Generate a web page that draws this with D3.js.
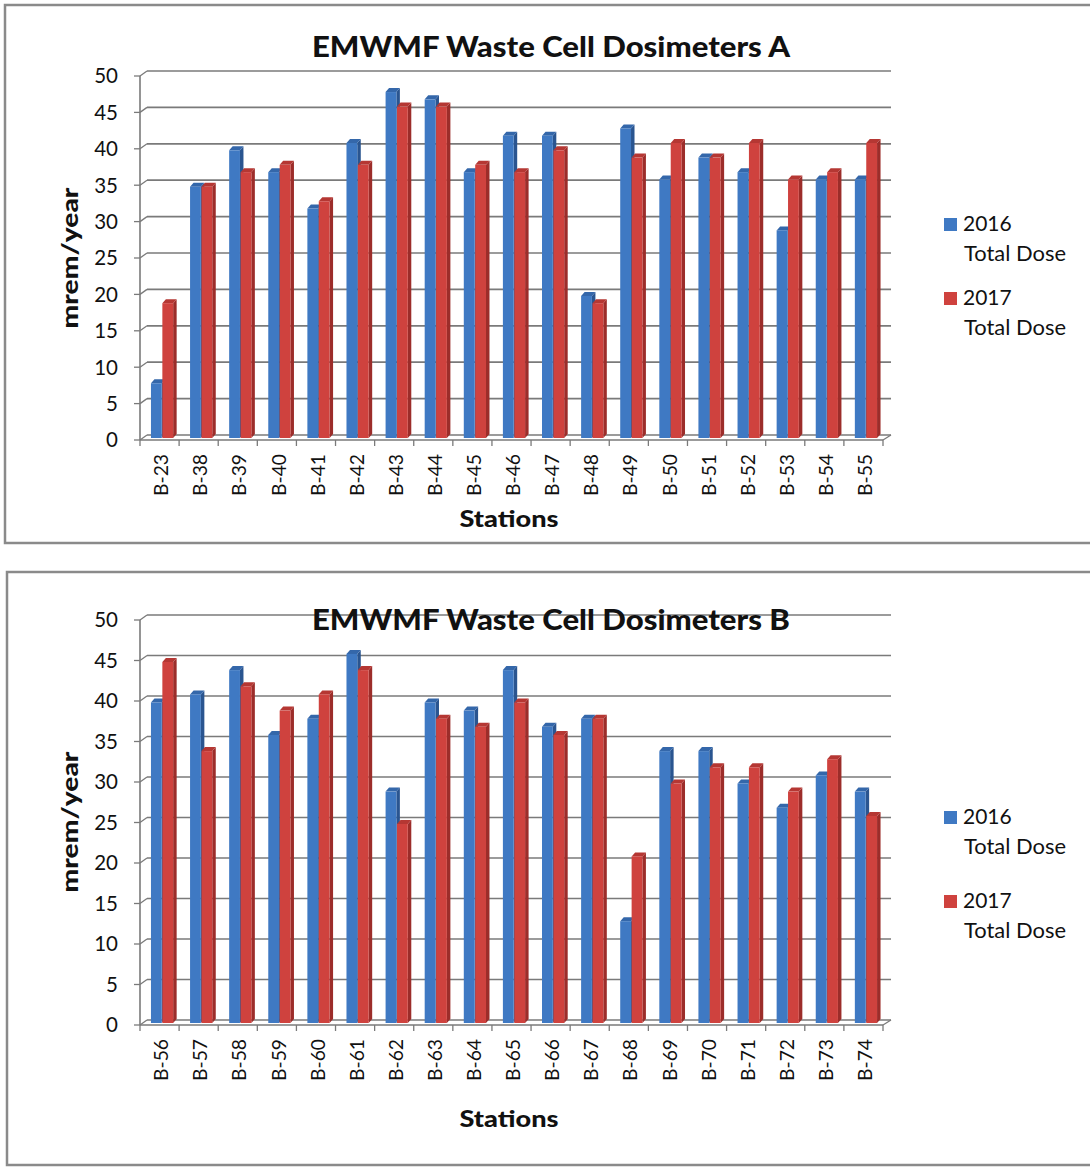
<!DOCTYPE html>
<html>
<head>
<meta charset="utf-8">
<script src="https://cdn.jsdelivr.net/npm/d3@7"></script>
<style>
  html, body { margin: 0; padding: 0; background: #fff; }
  svg { display: block; }
  text { font-family: Lato, "Open Sans", sans-serif; fill: #111; }
</style>
</head>
<body>
<svg id="chart" width="1090" height="1173"></svg>
<script>
// ---- data ----
const stationsA = ["B-23","B-38","B-39","B-40","B-41","B-42","B-43","B-44","B-45","B-46","B-47","B-48","B-49","B-50","B-51","B-52","B-53","B-54","B-55"];
const dose2016A = [8,35,40,37,32,41,48,47,37,42,42,20,43,36,39,37,29,36,36];
const dose2017A = [19,35,37,38,33,38,46,46,38,37,40,19,39,41,39,41,36,37,41];

const stationsB = ["B-56","B-57","B-58","B-59","B-60","B-61","B-62","B-63","B-64","B-65","B-66","B-67","B-68","B-69","B-70","B-71","B-72","B-73","B-74"];
const dose2016B = [40,41,44,36,38,46,29,40,39,44,37,38,13,34,34,30,27,31,29];
const dose2017B = [45,34,42,39,41,44,25,38,37,40,36,38,21,30,32,32,29,33,26];

const yTicks = [0,5,10,15,20,25,30,35,40,45,50];
const seriesYears = ["2016","2017"];
const seriesSub = ["Total Dose","Total Dose"];
const titles = ["EMWMF Waste Cell Dosimeters A","EMWMF Waste Cell Dosimeters B"];
const yAxisTitle = "mrem/year";
const xAxisTitle = "Stations";

// ---- styles ----
const faceCol = ["#3f79c3","#cf423e"];
const sideCol = ["#2a5590","#9c2d2a"];
const topCol  = ["#3467aa","#b53733"];
const gridCol = "#7a7a7a";

const svg = d3.select("#chart");

// panel frames
svg.append("rect").attr("x",5).attr("y",5).attr("width",1100).attr("height",538)
  .attr("fill","none").attr("stroke","#8a8a8a").attr("stroke-width",2.5);
svg.append("rect").attr("x",7).attr("y",572).attr("width",1100).attr("height",593)
  .attr("fill","none").attr("stroke","#8a8a8a").attr("stroke-width",2.5);

function drawChart(cfg) {
  const g = svg.append("g");
  const x = d3.scaleBand().domain(cfg.cats).range([140, 883]).paddingInner(0).paddingOuter(0);
  const y = d3.scaleLinear().domain([0,50]).range([cfg.y0, cfg.y50]);
  const dx = 7, dy = -5; // back wall offset

  // back gridlines
  g.selectAll(".grid").data(yTicks).join("line")
    .attr("x1", 140+dx).attr("x2", 891)
    .attr("y1", d => y(d)+dy).attr("y2", d => y(d)+dy)
    .attr("stroke", gridCol).attr("stroke-width", 1.7);
  // diagonal connectors from front axis to back wall
  g.selectAll(".diag").data(yTicks).join("line")
    .attr("x1", 140).attr("x2", 140+dx)
    .attr("y1", d => y(d)).attr("y2", d => y(d)+dy)
    .attr("stroke", gridCol).attr("stroke-width", 1.3);
  // front-left axis
  g.append("line").attr("x1",140).attr("x2",140).attr("y1",y(50)).attr("y2",y(0))
    .attr("stroke", gridCol).attr("stroke-width", 1.6);
  // y ticks
  g.selectAll(".yt").data(yTicks).join("line")
    .attr("x1", 134).attr("x2", 140).attr("y1", d => y(d)).attr("y2", d => y(d))
    .attr("stroke", gridCol).attr("stroke-width", 1.3);
  g.selectAll(".yl").data(yTicks).join("text")
    .attr("x", 118).attr("y", d => y(d)).attr("dy","0.36em")
    .attr("text-anchor","end").attr("font-size", 20.5).attr("fill","#222")
    .text(d => d);
  // front floor edge
  g.append("line").attr("x1",140).attr("x2",883).attr("y1",y(0)).attr("y2",y(0))
    .attr("stroke", gridCol).attr("stroke-width", 1.6);
  g.append("line").attr("x1",883).attr("x2",891).attr("y1",y(0)).attr("y2",y(0)+dy)
    .attr("stroke", gridCol).attr("stroke-width", 1.3);
  // x ticks at category boundaries
  const bounds = cfg.cats.map(c => x(c)).concat([883]);
  g.selectAll(".xt").data(bounds).join("line")
    .attr("x1", d => d).attr("x2", d => d).attr("y1", y(0)).attr("y2", y(0)+6)
    .attr("stroke", gridCol).attr("stroke-width", 1.3);

  // bars (3D)
  const bw = 10.8, bdx = 3.5, bdy = -4;
  const series = [cfg.s1, cfg.s2];
  series.forEach((vals, si) => {
    const bars = g.append("g");
    vals.forEach((v, i) => {
      const cx = x(cfg.cats[i]) + x.bandwidth()/2 + 2.5;
      const x0 = si === 0 ? cx - bw - 0.3 : cx + 0.3;
      const yt = y(v) + 1.5, yb = y(0) - 2;
      bars.append("path")
        .attr("d", `M${x0+bw},${yb} L${x0+bw+bdx},${yb+bdy} L${x0+bw+bdx},${yt+bdy} L${x0+bw},${yt} Z`)
        .attr("fill", sideCol[si]);
      bars.append("path")
        .attr("d", `M${x0},${yt} L${x0+bdx},${yt+bdy} L${x0+bw+bdx},${yt+bdy} L${x0+bw},${yt} Z`)
        .attr("fill", topCol[si]);
      bars.append("rect").attr("x", x0).attr("y", yt).attr("width", bw).attr("height", yb - yt)
        .attr("fill", faceCol[si]);
    });
  });

  // x category labels
  g.selectAll(".xl").data(cfg.cats).join("text")
    .attr("transform", d => `translate(${x(d)+x.bandwidth()/2+2},${y(0)+14}) rotate(-90)`)
    .attr("text-anchor","end").attr("dy","0.36em").attr("font-size", 18.5).attr("fill","#222")
    .attr("textLength", 42).attr("lengthAdjust","spacingAndGlyphs")
    .text(d => d);

  // title
  g.append("text").attr("x", 551).attr("y", cfg.titleY).attr("text-anchor","middle")
    .attr("font-size", 28).attr("font-weight","900")
    .attr("textLength", 478).attr("lengthAdjust","spacingAndGlyphs")
    .text(cfg.title);
  // y axis title
  g.append("text").attr("transform", `translate(78,${cfg.yTitleY}) rotate(-90)`)
    .attr("text-anchor","middle").attr("font-size", 23).attr("font-weight","900")
    .attr("textLength", 141).attr("lengthAdjust","spacingAndGlyphs")
    .text(yAxisTitle);
  // x axis title
  g.append("text").attr("x", 509).attr("y", cfg.xTitleY).attr("text-anchor","middle")
    .attr("font-size", 23).attr("font-weight","900")
    .attr("textLength", 99).attr("lengthAdjust","spacingAndGlyphs")
    .text(xAxisTitle);

  // legend
  const lg = g.append("g");
  seriesYears.forEach((yr, si) => {
    const by = cfg.legY + si * cfg.legGap;
    lg.append("rect").attr("x", 944).attr("y", by - 13).attr("width", 13).attr("height", 13)
      .attr("fill", faceCol[si]);
    lg.append("text").attr("x", 963).attr("y", by).attr("font-size", 21).attr("fill","#222").text(yr);
    lg.append("text").attr("x", 964).attr("y", by + 30).attr("font-size", 21).attr("fill","#222")
      .attr("textLength", 102).attr("lengthAdjust","spacingAndGlyphs").text(seriesSub[si]);
  });
}

drawChart({cats: stationsA, s1: dose2016A, s2: dose2017A, y0: 440, y50: 76,
  title: titles[0], titleY: 57, yTitleY: 258, xTitleY: 527, legY: 231, legGap: 74});
drawChart({cats: stationsB, s1: dose2016B, s2: dose2017B, y0: 1025, y50: 620,
  title: titles[1], titleY: 630, yTitleY: 822, xTitleY: 1127, legY: 824, legGap: 84});
</script>
</body>
</html>
